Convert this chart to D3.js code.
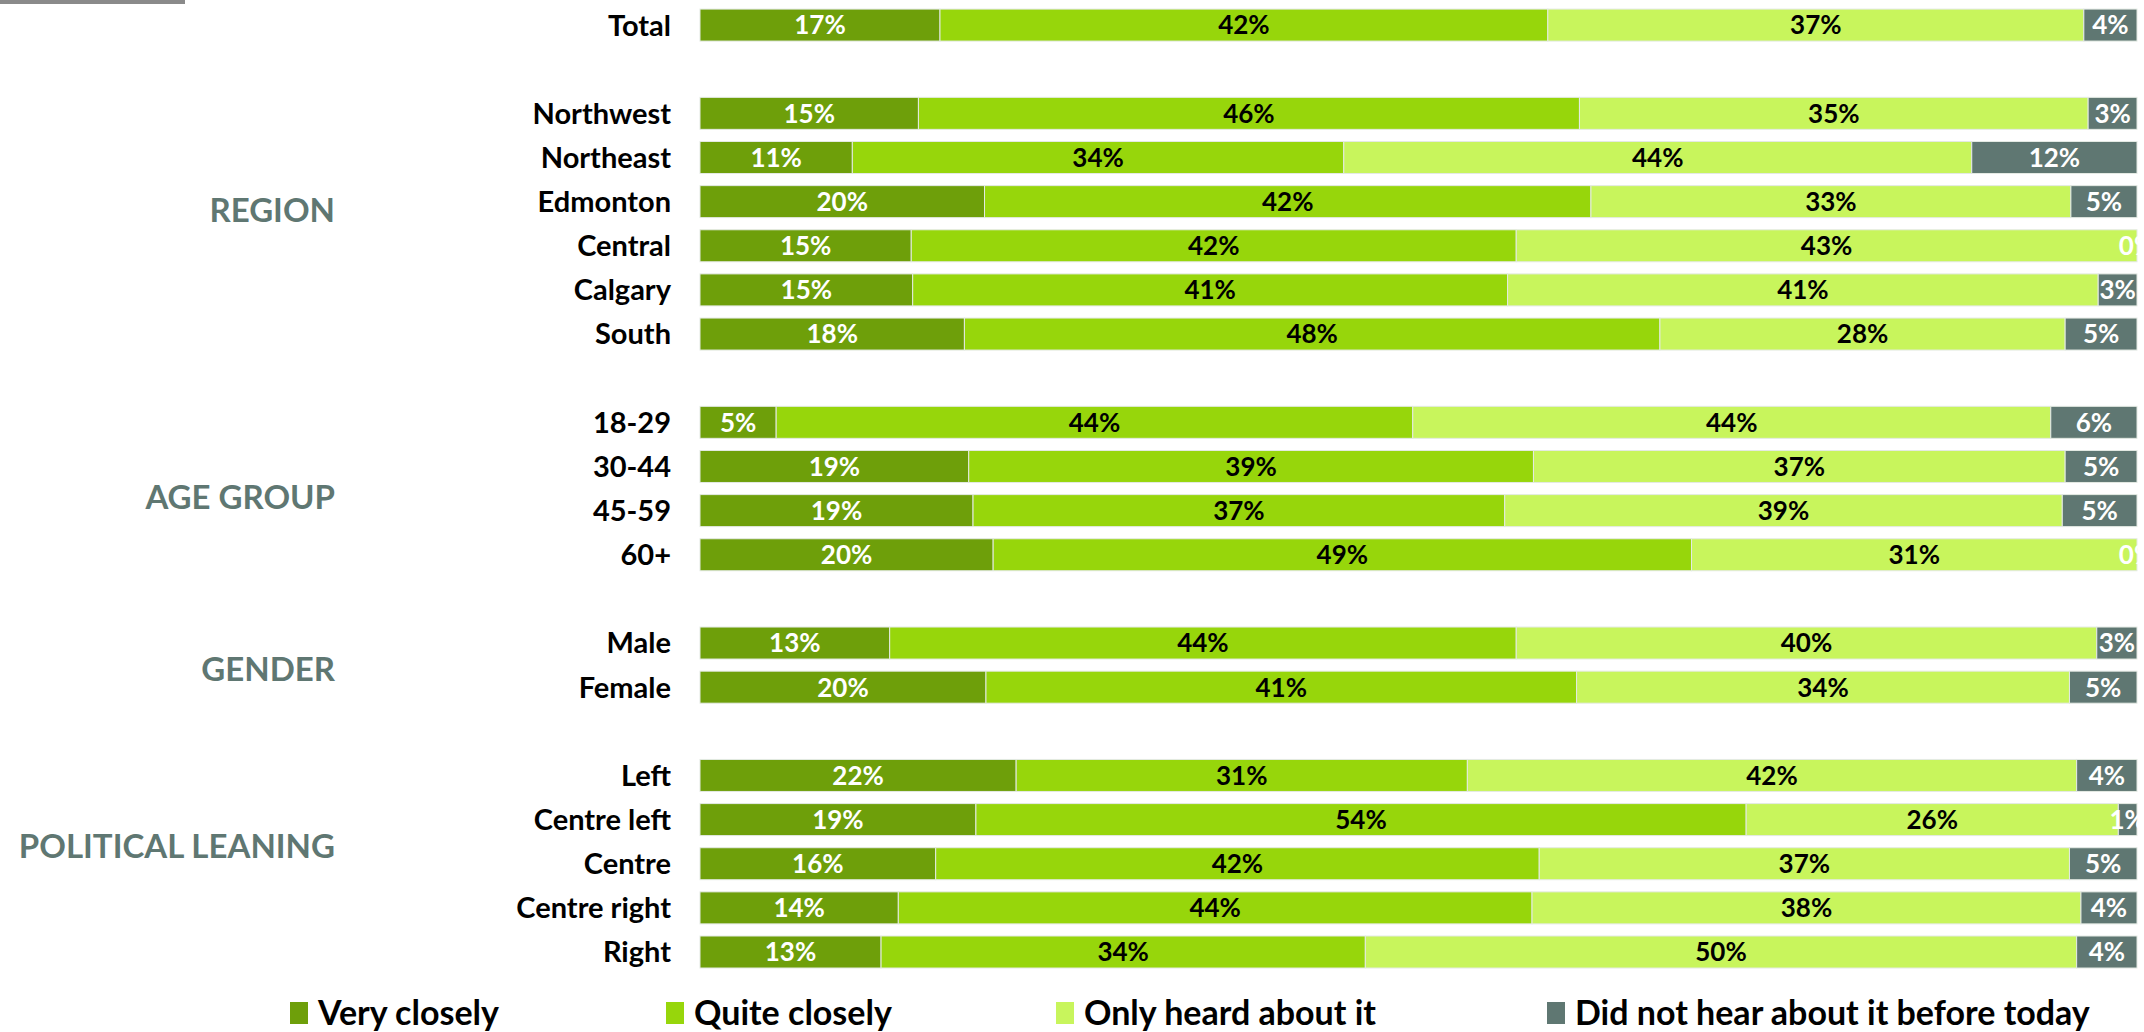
<!DOCTYPE html>
<html>
<head>
<meta charset="utf-8">
<script src="https://cdn.jsdelivr.net/npm/d3@7"></script>
<style>
  html, body { margin: 0; padding: 0; background: #ffffff; }
  svg { display: block; }
  text { font-family: Lato, "Open Sans", sans-serif; font-weight: 700; }
</style>
</head>
<body>
<svg id="chart" width="2144" height="1032"></svg>
<script>
// ---------- DATA ----------
const rows = ["Total", "_g1", "Northwest", "Northeast", "Edmonton", "Central", "Calgary", "South", "_g2",
  "18-29", "30-44", "45-59", "60+", "_g3", "Male", "Female", "_g4",
  "Left", "Centre left", "Centre", "Centre right", "Right"];
const seriesNames = ["Very closely", "Quite closely", "Only heard about it", "Did not hear about it before today"];
const veryClosely   = [16.7, 15.2, 10.6, 19.8, 14.7, 14.8, 18.4, 5.3, 18.7, 19.0, 20.4, 13.2, 19.9, 22.0, 19.2, 16.4, 13.8, 12.6];
const quiteClosely  = [42.3, 46.0, 34.2, 42.2, 42.1, 41.4, 48.4, 44.3, 39.3, 37.0, 48.6, 43.6, 41.1, 31.4, 53.6, 42.0, 44.1, 33.7];
const onlyHeard     = [37.3, 35.4, 43.7, 33.4, 43.2, 41.1, 28.2, 44.4, 37.0, 38.8, 31.0, 40.4, 34.3, 42.4, 25.9, 36.9, 38.2, 49.5];
const didNotHear    = [3.7, 3.4, 11.5, 4.6, 0.0, 2.7, 5.0, 6.0, 5.0, 5.2, 0.0, 2.8, 4.7, 4.2, 1.3, 4.7, 3.9, 4.2];
const groupLabels = ["REGION", "AGE GROUP", "GENDER", "POLITICAL LEANING"];
const groupPos = [4.2, 10.7, 14.6, 18.6];   // position in row slots
const colors = ["#6e9f0a", "#97d60b", "#c8f55c", "#5f7772"];
const textColors = ["#ffffff", "#000000", "#000000", "#ffffff"];

// ---------- BUILD ----------
const dataRows = rows.filter(r => !r.startsWith("_"));
const table = dataRows.map((r, i) => ({
  row: r,
  "Very closely": veryClosely[i],
  "Quite closely": quiteClosely[i],
  "Only heard about it": onlyHeard[i],
  "Did not hear about it before today": didNotHear[i]
}));

const svg = d3.select("#chart");
const x = d3.scaleLinear().domain([0, 100]).range([700, 2137]);
const step = 44.14;
const y = d3.scaleBand().domain(rows).range([3, 3 + rows.length * step])
  .paddingInner(0.275).paddingOuter(0.1375);
const color = d3.scaleOrdinal().domain(seriesNames).range(colors);
const tcolor = d3.scaleOrdinal().domain(seriesNames).range(textColors);

const stacked = d3.stack().keys(seriesNames)(table);

// top-left rule
svg.append("rect").attr("x", 0).attr("y", 0).attr("width", 185).attr("height", 4).attr("fill", "#8a8a8a");

const layers = svg.append("g").selectAll("g").data(stacked).join("g")
  .attr("fill", d => color(d.key));

layers.selectAll("rect").data(d => d).join("rect")
  .attr("x", d => x(d[0]))
  .attr("y", d => y(d.data.row))
  .attr("width", d => Math.max(0, x(d[1]) - x(d[0])))
  .attr("height", y.bandwidth())
  .attr("stroke", "#e4eae4")
  .attr("stroke-width", 1);

// value labels
const lab = svg.append("g");
stacked.forEach(layer => {
  lab.selectAll(null).data(layer).join("text")
    .attr("x", d => (x(d[0]) + x(d[1])) / 2)
    .attr("y", d => y(d.data.row) + y.bandwidth() / 2)
    .attr("dy", "0.36em")
    .attr("text-anchor", "middle")
    .attr("font-size", 26)
    .attr("fill", tcolor(layer.key))
    .text(d => Math.round(d[1] - d[0]) + "%");
});

// row labels
svg.append("g").selectAll("text").data(dataRows).join("text")
  .attr("x", 671)
  .attr("y", d => y(d) + y.bandwidth() / 2)
  .attr("dy", "0.36em")
  .attr("text-anchor", "end")
  .attr("font-size", 29)
  .attr("fill", "#000")
  .text(d => d);

// group labels
const slotCenter = i => y.range()[0] + y.paddingOuter() * y.step() + i * y.step() + y.bandwidth() / 2;
svg.append("g").selectAll("text").data(groupLabels).join("text")
  .attr("x", 335)
  .attr("y", (d, i) => slotCenter(groupPos[i]))
  .attr("dy", "0.36em")
  .attr("text-anchor", "end")
  .attr("font-size", 33)
  .attr("fill", "#5f7772")
  .text(d => d);

// legend
const legendX = [290, 666, 1056, 1547];
const lg = svg.append("g").selectAll("g").data(seriesNames).join("g")
  .attr("transform", (d, i) => `translate(${legendX[i]},1013)`);
lg.append("rect").attr("x", 0).attr("y", -11).attr("width", 18).attr("height", 22).attr("fill", d => color(d));
lg.append("text").attr("x", 28).attr("dy", "0.36em").attr("font-size", 34).attr("fill", "#000").text(d => d);
</script>
</body>
</html>
